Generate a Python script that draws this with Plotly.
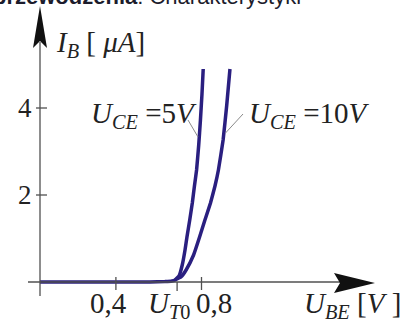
import plotly.graph_objects as go

# ---- data ----
ube_5 = [0.045, 0.559, 0.629, 0.662, 0.676, 0.695, 0.710, 0.723, 0.732, 0.745, 0.757,
         0.767, 0.777, 0.787, 0.795, 0.802, 0.808]
ib_5 = [0.0, 0.0, 0.009, 0.023, 0.046, 0.138, 0.391, 0.736, 1.034, 1.425, 1.816,
        2.207, 2.575, 3.149, 3.724, 4.299, 4.897]
ube_10 = [0.676, 0.704, 0.728, 0.763, 0.791, 0.816, 0.842, 0.863, 0.879, 0.901, 0.918, 0.933]
ib_10 = [0.046, 0.115, 0.276, 0.621, 1.034, 1.425, 1.816, 2.207, 2.575, 3.264, 4.069, 4.897]
x_tick_vals = [0.4, 0.8]
x_tick_text = ["0,4", "0,8"]
y_tick_vals = [2, 4]
y_tick_text = ["2", "4"]
u_t0 = 0.686

# ---- layout mapping ----
W, H = 400, 326
X0, SX = 30.3, 214.0   # pixel of U=0, pixels per volt
Y0, SY = 282.0, 43.5   # pixel of I=0, pixels per µA
fx = lambda px: (px - X0) / SX
fy = lambda py: (Y0 - py) / SY

LINE = "#2a1f80"
AX = "#505050"
FONT = "Liberation Serif, 'Times New Roman', 'DejaVu Serif', serif"

fig = go.Figure()
for xs, ys in [(ube_5, ib_5), (ube_10, ib_10)]:
    fig.add_trace(go.Scatter(x=xs, y=ys, mode="lines",
                             line=dict(color=LINE, width=3.5, shape="spline", smoothing=0.3),
                             hoverinfo="skip", showlegend=False))

shapes = []
# axes lines
shapes.append(dict(type="line", xref="x", yref="y", x0=fx(28), x1=fx(342), y0=0, y1=0,
                   line=dict(color=AX, width=1.3)))
shapes.append(dict(type="line", xref="x", yref="y", x0=fx(40), x1=fx(40), y0=fy(296), y1=fy(42),
                   line=dict(color=AX, width=1.3)))
# arrowheads
shapes.append(dict(type="path", xref="x", yref="y",
                   path=f"M {fx(375)},{fy(283)} L {fx(334)},{fy(273)} L {fx(340)},{fy(283)} L {fx(334)},{fy(293)} Z",
                   fillcolor="#111111", line=dict(width=0)))
shapes.append(dict(type="path", xref="x", yref="y",
                   path=f"M {fx(40)},{fy(6)} L {fx(33)},{fy(48)} L {fx(40)},{fy(41)} L {fx(47)},{fy(48)} Z",
                   fillcolor="#111111", line=dict(width=0)))
# x ticks
for v in x_tick_vals:
    shapes.append(dict(type="line", xref="x", yref="y", x0=v, x1=v, y0=fy(277), y1=fy(290),
                       line=dict(color=AX, width=1.3)))
shapes.append(dict(type="line", xref="x", yref="y", x0=u_t0, x1=u_t0, y0=0, y1=fy(291),
                   line=dict(color=AX, width=1.3)))
# y ticks
for v in y_tick_vals:
    shapes.append(dict(type="line", xref="x", yref="y", x0=fx(36), x1=fx(47), y0=v, y1=v,
                       line=dict(color=AX, width=1.3)))
# leader lines
shapes.append(dict(type="line", xref="x", yref="y", x0=fx(188), y0=fy(120), x1=fx(198), y1=fy(137),
                   line=dict(color="#8a8a8a", width=1)))
shapes.append(dict(type="line", xref="x", yref="y", x0=fx(243), y0=fy(114), x1=fx(225.5), y1=fy(133),
                   line=dict(color="#8a8a8a", width=1)))

ann = []
def txt(text, px, py, size, xanchor="left", yanchor="middle"):
    ann.append(dict(text=text, x=fx(px), y=fy(py), xref="x", yref="y", showarrow=False,
                    xanchor=xanchor, yanchor=yanchor,
                    font=dict(family=FONT, size=size, color="#222222")))

# tick labels
x_lab_px = [108.5, 214]
for v, t, p in zip(x_tick_vals, x_tick_text, x_lab_px):
    txt(t, p, 303, 29, xanchor="center")
for v, t in zip(y_tick_vals, y_tick_text):
    txt(t, 25, Y0 - v * SY, 27, xanchor="center")

txt("<i>U</i><sub><i>T</i>0</sub>", 146, 305, 29)
txt("<i>I</i><sub><i>B</i></sub> [ <i>μA</i>]", 54, 44, 29)
txt("<i>U</i><sub><i>CE</i></sub> =5<i>V</i>", 89, 115, 29)
txt("<i>U</i><sub><i>CE</i></sub> =10<i>V</i>", 247, 115, 29)
txt("<i>U</i><sub><i>BE</i></sub> [<i>V</i> ]", 302, 305, 29)

# cut-off caption at very top
ann.append(dict(text="<b>przewodzenia</b>: Charakterystyki", xref="paper", yref="paper",
                x=303 / W, y=1 - 11 / H, xanchor="right", yanchor="bottom", showarrow=False,
                font=dict(family="Liberation Sans", size=22, color="#1c1c2c")))

fig.update_layout(
    width=W, height=H, margin=dict(l=0, r=0, t=0, b=0),
    paper_bgcolor="white", plot_bgcolor="white",
    xaxis=dict(range=[fx(0), fx(W)], visible=False, fixedrange=True),
    yaxis=dict(range=[fy(H), fy(0)], visible=False, fixedrange=True),
    shapes=shapes, annotations=ann,
)
fig.write_html("out.html", config={"displayModeBar": False},
               post_script="document.body.style.margin='0';document.body.style.overflow='hidden';")
